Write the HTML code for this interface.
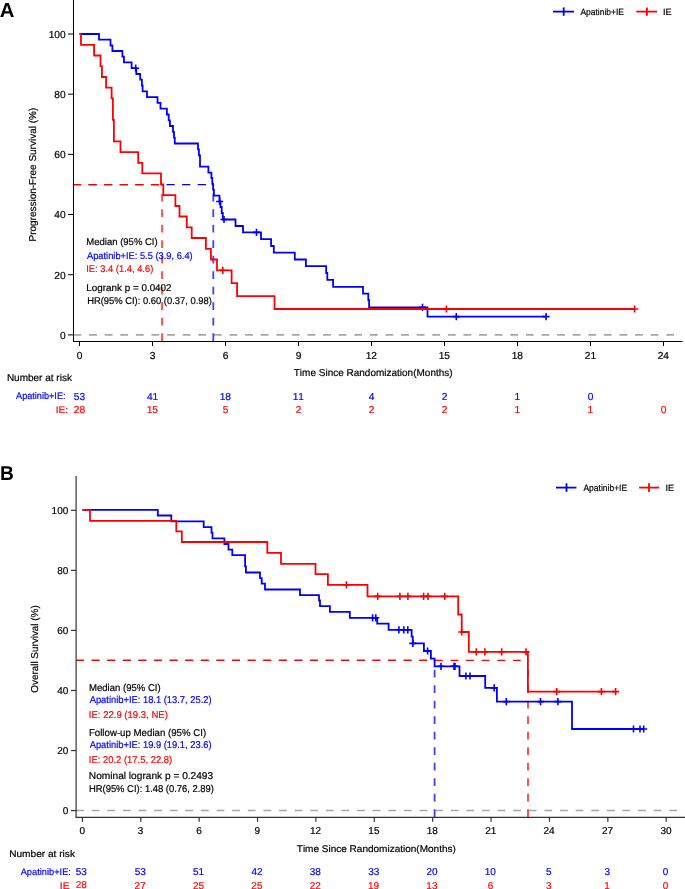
<!DOCTYPE html>
<html><head><meta charset="utf-8"><style>
html,body{margin:0;padding:0;background:#fff;overflow:hidden;}
svg{display:block;will-change:transform;}
text{font-family:"Liberation Sans", sans-serif;font-kerning:none;text-rendering:geometricPrecision;}
</style></head><body>
<svg width="685" height="889" viewBox="0 0 685 889">
<text x="-0.3" y="17.1" font-size="20.3" fill="#000000" textLength="14.64" lengthAdjust="spacingAndGlyphs" font-weight="bold">A</text>
<line x1="73.5" y1="334.9" x2="682" y2="334.9" stroke="#a6a6a6" stroke-width="1.6" stroke-dasharray="7.8 7.8"/>
<line x1="72.9" y1="184.6" x2="213.3" y2="184.6" stroke="#0000ff" stroke-width="1.3" stroke-dasharray="8.2 7.4"/>
<line x1="72.9" y1="184.6" x2="162.1" y2="184.6" stroke="#ff0000" stroke-width="1.3" stroke-dasharray="8.2 7.4"/>
<line x1="162.1" y1="341" x2="162.1" y2="184.0" stroke="#ff0000" stroke-width="2" stroke-dasharray="7.75 7.75" stroke-opacity="0.68"/>
<line x1="213.3" y1="341" x2="213.3" y2="184.0" stroke="#0000ff" stroke-width="1.8" stroke-dasharray="7.75 7.75" stroke-opacity="0.75"/>
<line x1="73.5" y1="0" x2="73.5" y2="342.0" stroke="#000000" stroke-width="1"/>
<line x1="73.0" y1="341.5" x2="682.5" y2="341.5" stroke="#000000" stroke-width="1"/>
<line x1="68" y1="334.9" x2="73.5" y2="334.9" stroke="#000000" stroke-width="1"/>
<text x="60.03" y="338.7" font-size="10.2" fill="#000000" stroke="#000000" stroke-width="0.2">0</text>
<line x1="68" y1="274.72" x2="73.5" y2="274.72" stroke="#000000" stroke-width="1"/>
<text x="54.35" y="278.52000000000004" font-size="10.2" fill="#000000" stroke="#000000" stroke-width="0.2">20</text>
<line x1="68" y1="214.54" x2="73.5" y2="214.54" stroke="#000000" stroke-width="1"/>
<text x="54.35" y="218.34" font-size="10.2" fill="#000000" stroke="#000000" stroke-width="0.2">40</text>
<line x1="68" y1="154.36" x2="73.5" y2="154.36" stroke="#000000" stroke-width="1"/>
<text x="54.35" y="158.16000000000003" font-size="10.2" fill="#000000" stroke="#000000" stroke-width="0.2">60</text>
<line x1="68" y1="94.18" x2="73.5" y2="94.18" stroke="#000000" stroke-width="1"/>
<text x="54.35" y="97.98" font-size="10.2" fill="#000000" stroke="#000000" stroke-width="0.2">80</text>
<line x1="68" y1="34.0" x2="73.5" y2="34.0" stroke="#000000" stroke-width="1"/>
<text x="48.68" y="37.8" font-size="10.2" fill="#000000" stroke="#000000" stroke-width="0.2">100</text>
<line x1="79.5" y1="341.5" x2="79.5" y2="346" stroke="#000000" stroke-width="1"/>
<text x="76.66" y="358.5" font-size="10.2" fill="#000000" stroke="#000000" stroke-width="0.2">0</text>
<line x1="152.5" y1="341.5" x2="152.5" y2="346" stroke="#000000" stroke-width="1"/>
<text x="149.69" y="358.5" font-size="10.2" fill="#000000" stroke="#000000" stroke-width="0.2">3</text>
<line x1="225.5" y1="341.5" x2="225.5" y2="346" stroke="#000000" stroke-width="1"/>
<text x="222.63" y="358.5" font-size="10.2" fill="#000000" stroke="#000000" stroke-width="0.2">6</text>
<line x1="298.5" y1="341.5" x2="298.5" y2="346" stroke="#000000" stroke-width="1"/>
<text x="295.67" y="358.5" font-size="10.2" fill="#000000" stroke="#000000" stroke-width="0.2">9</text>
<line x1="371.5" y1="341.5" x2="371.5" y2="346" stroke="#000000" stroke-width="1"/>
<text x="365.7" y="358.5" font-size="10.2" fill="#000000" stroke="#000000" stroke-width="0.2">12</text>
<line x1="444.5" y1="341.5" x2="444.5" y2="346" stroke="#000000" stroke-width="1"/>
<text x="438.65" y="358.5" font-size="10.2" fill="#000000" stroke="#000000" stroke-width="0.2">15</text>
<line x1="517.49" y1="341.5" x2="517.49" y2="346" stroke="#000000" stroke-width="1"/>
<text x="511.65" y="358.5" font-size="10.2" fill="#000000" stroke="#000000" stroke-width="0.2">18</text>
<line x1="590.49" y1="341.5" x2="590.49" y2="346" stroke="#000000" stroke-width="1"/>
<text x="584.81" y="358.5" font-size="10.2" fill="#000000" stroke="#000000" stroke-width="0.2">21</text>
<line x1="663.49" y1="341.5" x2="663.49" y2="346" stroke="#000000" stroke-width="1"/>
<text x="657.71" y="358.5" font-size="10.2" fill="#000000" stroke="#000000" stroke-width="0.2">24</text>
<text x="0" y="0" font-size="10" fill="#000000" stroke="#000000" stroke-width="0.2" textLength="133.74" lengthAdjust="spacingAndGlyphs" transform="translate(35.6,241.52) rotate(-90)">Progression-Free Survival (%)</text>
<text x="293.78" y="375.5" font-size="10" fill="#000000" stroke="#000000" stroke-width="0.2" textLength="158.84" lengthAdjust="spacingAndGlyphs">Time Since Randomization(Months)</text>
<line x1="553" y1="11.6" x2="574" y2="11.6" stroke="#0000ff" stroke-width="1.8"/>
<path d="M563.7 7.3999999999999995V15.8" stroke="#0000ff" stroke-width="1.8" fill="none"/>
<text x="580.38" y="15.0" font-size="9.0" fill="#000000" stroke="#000000" stroke-width="0.2" textLength="43.58" lengthAdjust="spacingAndGlyphs">Apatinib+IE</text>
<line x1="636.3" y1="11.6" x2="657" y2="11.6" stroke="#ff0000" stroke-width="1.8"/>
<path d="M646.9 7.3999999999999995V15.8" stroke="#ff0000" stroke-width="1.8" fill="none"/>
<text x="662.96" y="15.0" font-size="9.0" fill="#000000" stroke="#000000" stroke-width="0.2" textLength="8.64" lengthAdjust="spacingAndGlyphs">IE</text>
<text x="86.32" y="245.1" font-size="9.8" fill="#000000" stroke="#000000" stroke-width="0.2" textLength="71.37" lengthAdjust="spacingAndGlyphs">Median (95% CI)</text>
<text x="86.98" y="258.7" font-size="9.8" fill="#0000ff" stroke="#0000ff" stroke-width="0.2" textLength="105.69" lengthAdjust="spacingAndGlyphs">Apatinib+IE: 5.5 (3.9, 6.4)</text>
<text x="86.24" y="272.3" font-size="9.8" fill="#ff0000" stroke="#ff0000" stroke-width="0.2" textLength="67.04" lengthAdjust="spacingAndGlyphs">IE: 3.4 (1.4, 4.6)</text>
<text x="86.39" y="290.9" font-size="9.8" fill="#000000" stroke="#000000" stroke-width="0.2" textLength="85.2" lengthAdjust="spacingAndGlyphs">Logrank p = 0.0402</text>
<text x="87.13" y="304.0" font-size="9.8" fill="#000000" stroke="#000000" stroke-width="0.2" textLength="124.75" lengthAdjust="spacingAndGlyphs">HR(95% CI): 0.60 (0.37, 0.98)</text>
<path d="M79.5 34.0H99.0V39.7H110.5V45.5H112.4V51.0H122.4V56.7H123.9V62.4H131.6V68.2H136.3V74.0H140.2V79.7H141.9V85.5H142.6V91.3H147.0V97.1H157.5V102.8H160.5V108.6H166.9V114.5H168.7V120.3H169.9V126.0H173.0V131.9H174.0V137.7H174.8V143.5H198.0V149.4H198.9V155.3H200.0V166.7H208.4V172.6H211.4V178.0H212.3V183.8H213.1V189.6H213.9V195.6H219.5V201.5H220.5V207.0H221.7V213.0H222.8V219.5H235.5V226.0H243.0V232.4H261.0V239.2H271.1V246.0H273.8V252.7H294.8V259.5H305.9V266.2H326.2V273.0H327.3V279.9H333.1V286.8H363.0V293.7H368.3V300.2H369.1V307.3H427.5V316.6H546.1" fill="none" stroke="#0000ff" stroke-width="1.8" stroke-linejoin="miter" stroke-linecap="butt"/>
<path d="M135.7 64.60000000000001V71.8M132.2 68.2H139.2" stroke="#0000ff" stroke-width="1.6" fill="none"/>
<path d="M219.6 197.9V205.1M216.1 201.5H223.1" stroke="#0000ff" stroke-width="1.6" fill="none"/>
<path d="M224.0 215.9V223.1M220.5 219.5H227.5" stroke="#0000ff" stroke-width="1.6" fill="none"/>
<path d="M256.5 228.8V236.0M253.0 232.4H260.0" stroke="#0000ff" stroke-width="1.6" fill="none"/>
<path d="M422.5 303.7V310.90000000000003M419.0 307.3H426.0" stroke="#0000ff" stroke-width="1.6" fill="none"/>
<path d="M456.3 313.0V320.20000000000005M452.8 316.6H459.8" stroke="#0000ff" stroke-width="1.6" fill="none"/>
<path d="M546.1 313.0V320.20000000000005M542.6 316.6H549.6" stroke="#0000ff" stroke-width="1.6" fill="none"/>
<path d="M79.5 34.0H81.0V44.8H94.1V55.5H100.5V66.2H101.9V77.0H106.1V87.7H111.6V98.4H112.9V119.9H113.9V141.3H120.5V152.1H138.2V162.9H142.3V173.4H161.0V184.4H163.3V195.2H175.4V206.0H179.5V216.5H186.8V227.3H191.7V238.0H205.9V248.8H210.9V259.5H217.0V270.3H231.6V283.2H237.1V296.1H274.5V309.0H634.6" fill="none" stroke="#ff0000" stroke-width="1.8" stroke-linejoin="miter" stroke-linecap="butt"/>
<path d="M222.8 266.7V273.90000000000003M219.3 270.3H226.3" stroke="#ff0000" stroke-width="1.6" fill="none"/>
<path d="M446.4 305.4V312.6M442.9 309.0H449.9" stroke="#ff0000" stroke-width="1.6" fill="none"/>
<path d="M634.6 305.4V312.6M631.1 309.0H638.1" stroke="#ff0000" stroke-width="1.6" fill="none"/>
<text x="6.88" y="380.8" font-size="10" fill="#000000" stroke="#000000" stroke-width="0.2" textLength="65.01" lengthAdjust="spacingAndGlyphs">Number at risk</text>
<text x="16.08" y="399.3" font-size="9.6" fill="#0000ff" stroke="#0000ff" stroke-width="0.2" textLength="49.45" lengthAdjust="spacingAndGlyphs">Apatinib+IE:</text>
<text x="55.66" y="412.8" font-size="9.4" fill="#ff0000" stroke="#ff0000" stroke-width="0.2" textLength="12.47" lengthAdjust="spacingAndGlyphs">IE:</text>
<text x="73.85" y="399.8" font-size="10.2" fill="#0000ff" stroke="#0000ff" stroke-width="0.2">53</text>
<text x="146.96" y="399.8" font-size="10.2" fill="#0000ff" stroke="#0000ff" stroke-width="0.2">41</text>
<text x="219.66" y="399.8" font-size="10.2" fill="#0000ff" stroke="#0000ff" stroke-width="0.2">18</text>
<text x="292.69" y="399.8" font-size="10.2" fill="#0000ff" stroke="#0000ff" stroke-width="0.2">11</text>
<text x="368.7" y="399.8" font-size="10.2" fill="#0000ff" stroke="#0000ff" stroke-width="0.2">4</text>
<text x="441.66" y="399.8" font-size="10.2" fill="#0000ff" stroke="#0000ff" stroke-width="0.2">2</text>
<text x="514.51" y="399.8" font-size="10.2" fill="#0000ff" stroke="#0000ff" stroke-width="0.2">1</text>
<text x="587.65" y="399.8" font-size="10.2" fill="#0000ff" stroke="#0000ff" stroke-width="0.2">0</text>
<text x="73.79" y="413.0" font-size="10.2" fill="#ff0000" stroke="#ff0000" stroke-width="0.2">28</text>
<text x="146.65" y="413.0" font-size="10.2" fill="#ff0000" stroke="#ff0000" stroke-width="0.2">15</text>
<text x="222.67" y="413.0" font-size="10.2" fill="#ff0000" stroke="#ff0000" stroke-width="0.2">5</text>
<text x="295.66" y="413.0" font-size="10.2" fill="#ff0000" stroke="#ff0000" stroke-width="0.2">2</text>
<text x="368.66" y="413.0" font-size="10.2" fill="#ff0000" stroke="#ff0000" stroke-width="0.2">2</text>
<text x="441.66" y="413.0" font-size="10.2" fill="#ff0000" stroke="#ff0000" stroke-width="0.2">2</text>
<text x="514.51" y="413.0" font-size="10.2" fill="#ff0000" stroke="#ff0000" stroke-width="0.2">1</text>
<text x="587.51" y="413.0" font-size="10.2" fill="#ff0000" stroke="#ff0000" stroke-width="0.2">1</text>
<text x="660.65" y="413.0" font-size="10.2" fill="#ff0000" stroke="#ff0000" stroke-width="0.2">0</text>
<text x="0.02" y="479.7" font-size="20.0" fill="#000000" textLength="13.85" lengthAdjust="spacingAndGlyphs" font-weight="bold">B</text>
<line x1="76.1" y1="810.6" x2="685" y2="810.6" stroke="#a6a6a6" stroke-width="1.5" stroke-dasharray="7.8 7.81"/>
<line x1="76.1" y1="660.45" x2="434.6" y2="660.45" stroke="#0000ff" stroke-width="1.3" stroke-dasharray="7.8 7.8"/>
<line x1="76.1" y1="660.45" x2="527.9" y2="660.45" stroke="#ff0000" stroke-width="1.3" stroke-dasharray="7.8 7.8"/>
<line x1="434.6" y1="817" x2="434.6" y2="660.45" stroke="#0000ff" stroke-width="1.8" stroke-dasharray="7.75 7.75" stroke-opacity="0.75"/>
<line x1="528.0" y1="817" x2="528.0" y2="660.45" stroke="#ff0000" stroke-width="2" stroke-dasharray="7.75 7.75" stroke-opacity="0.68"/>
<line x1="76.1" y1="476" x2="76.1" y2="817.8" stroke="#333333" stroke-width="1.2"/>
<line x1="75.6" y1="817.3" x2="685" y2="817.3" stroke="#333333" stroke-width="1.2"/>
<line x1="71" y1="810.6" x2="76.1" y2="810.6" stroke="#333333" stroke-width="1.2"/>
<text x="62.73" y="814.1" font-size="10.0" fill="#000000" stroke="#000000" stroke-width="0.2">0</text>
<line x1="71" y1="750.54" x2="76.1" y2="750.54" stroke="#333333" stroke-width="1.2"/>
<text x="57.17" y="754.04" font-size="10.0" fill="#000000" stroke="#000000" stroke-width="0.2">20</text>
<line x1="71" y1="690.48" x2="76.1" y2="690.48" stroke="#333333" stroke-width="1.2"/>
<text x="57.17" y="693.98" font-size="10.0" fill="#000000" stroke="#000000" stroke-width="0.2">40</text>
<line x1="71" y1="630.42" x2="76.1" y2="630.42" stroke="#333333" stroke-width="1.2"/>
<text x="57.17" y="633.92" font-size="10.0" fill="#000000" stroke="#000000" stroke-width="0.2">60</text>
<line x1="71" y1="570.36" x2="76.1" y2="570.36" stroke="#333333" stroke-width="1.2"/>
<text x="57.17" y="573.86" font-size="10.0" fill="#000000" stroke="#000000" stroke-width="0.2">80</text>
<line x1="71" y1="510.3" x2="76.1" y2="510.3" stroke="#333333" stroke-width="1.2"/>
<text x="51.61" y="513.8" font-size="10.0" fill="#000000" stroke="#000000" stroke-width="0.2">100</text>
<line x1="82.4" y1="817.3" x2="82.4" y2="821.7" stroke="#333333" stroke-width="1.2"/>
<text x="79.42" y="834.2" font-size="10.0" fill="#000000" stroke="#000000" stroke-width="0.2">0</text>
<line x1="140.78" y1="817.3" x2="140.78" y2="821.7" stroke="#333333" stroke-width="1.2"/>
<text x="137.83" y="834.2" font-size="10.0" fill="#000000" stroke="#000000" stroke-width="0.2">3</text>
<line x1="199.16" y1="817.3" x2="199.16" y2="821.7" stroke="#333333" stroke-width="1.2"/>
<text x="196.15" y="834.2" font-size="10.0" fill="#000000" stroke="#000000" stroke-width="0.2">6</text>
<line x1="257.54" y1="817.3" x2="257.54" y2="821.7" stroke="#333333" stroke-width="1.2"/>
<text x="254.56" y="834.2" font-size="10.0" fill="#000000" stroke="#000000" stroke-width="0.2">9</text>
<line x1="315.92" y1="817.3" x2="315.92" y2="821.7" stroke="#333333" stroke-width="1.2"/>
<text x="310.03" y="834.2" font-size="10.0" fill="#000000" stroke="#000000" stroke-width="0.2">12</text>
<line x1="374.3" y1="817.3" x2="374.3" y2="821.7" stroke="#333333" stroke-width="1.2"/>
<text x="368.37" y="834.2" font-size="10.0" fill="#000000" stroke="#000000" stroke-width="0.2">15</text>
<line x1="432.68" y1="817.3" x2="432.68" y2="821.7" stroke="#333333" stroke-width="1.2"/>
<text x="426.75" y="834.2" font-size="10.0" fill="#000000" stroke="#000000" stroke-width="0.2">18</text>
<line x1="491.06" y1="817.3" x2="491.06" y2="821.7" stroke="#333333" stroke-width="1.2"/>
<text x="485.29" y="834.2" font-size="10.0" fill="#000000" stroke="#000000" stroke-width="0.2">21</text>
<line x1="549.44" y1="817.3" x2="549.44" y2="821.7" stroke="#333333" stroke-width="1.2"/>
<text x="543.57" y="834.2" font-size="10.0" fill="#000000" stroke="#000000" stroke-width="0.2">24</text>
<line x1="607.82" y1="817.3" x2="607.82" y2="821.7" stroke="#333333" stroke-width="1.2"/>
<text x="602.06" y="834.2" font-size="10.0" fill="#000000" stroke="#000000" stroke-width="0.2">27</text>
<line x1="666.2" y1="817.3" x2="666.2" y2="821.7" stroke="#333333" stroke-width="1.2"/>
<text x="660.44" y="834.2" font-size="10.0" fill="#000000" stroke="#000000" stroke-width="0.2">30</text>
<text x="0" y="0" font-size="10.0" fill="#000000" stroke="#000000" stroke-width="0.2" textLength="87.48" lengthAdjust="spacingAndGlyphs" transform="translate(37.9,692.77) rotate(-90)">Overall Survival (%)</text>
<text x="296.78" y="851.9" font-size="9.7" fill="#000000" stroke="#000000" stroke-width="0.2" textLength="159.05" lengthAdjust="spacingAndGlyphs">Time Since Randomization(Months)</text>
<line x1="556" y1="487.6" x2="576.4" y2="487.6" stroke="#0000ff" stroke-width="1.8"/>
<path d="M566.5 483.3V491.90000000000003" stroke="#0000ff" stroke-width="1.8" fill="none"/>
<text x="583.38" y="491.3" font-size="9.2" fill="#000000" stroke="#000000" stroke-width="0.2" textLength="43.78" lengthAdjust="spacingAndGlyphs">Apatinib+IE</text>
<line x1="639.1" y1="487.6" x2="659.2" y2="487.6" stroke="#ff0000" stroke-width="1.8"/>
<path d="M649 483.3V491.90000000000003" stroke="#ff0000" stroke-width="1.8" fill="none"/>
<text x="665.56" y="491.3" font-size="9.2" fill="#000000" stroke="#000000" stroke-width="0.2" textLength="8.64" lengthAdjust="spacingAndGlyphs">IE</text>
<text x="88.92" y="690.5" font-size="9.9" fill="#000000" stroke="#000000" stroke-width="0.2" textLength="71.78" lengthAdjust="spacingAndGlyphs">Median (95% CI)</text>
<text x="89.68" y="703.0" font-size="9.9" fill="#0000ff" stroke="#0000ff" stroke-width="0.2" textLength="121.9" lengthAdjust="spacingAndGlyphs">Apatinib+IE: 18.1 (13.7, 25.2)</text>
<text x="88.82" y="717.8" font-size="9.9" fill="#ff0000" stroke="#ff0000" stroke-width="0.2" textLength="79.07" lengthAdjust="spacingAndGlyphs">IE: 22.9 (19.3, NE)</text>
<text x="88.91" y="735.7" font-size="9.9" fill="#000000" stroke="#000000" stroke-width="0.2" textLength="117.29" lengthAdjust="spacingAndGlyphs">Follow-up Median (95% CI)</text>
<text x="89.68" y="748.2" font-size="9.9" fill="#0000ff" stroke="#0000ff" stroke-width="0.2" textLength="121.9" lengthAdjust="spacingAndGlyphs">Apatinib+IE: 19.9 (19.1, 23.6)</text>
<text x="88.83" y="762.7" font-size="9.9" fill="#ff0000" stroke="#ff0000" stroke-width="0.2" textLength="83.36" lengthAdjust="spacingAndGlyphs">IE: 20.2 (17.5, 22.8)</text>
<text x="88.87" y="779.3" font-size="9.9" fill="#000000" stroke="#000000" stroke-width="0.2" textLength="124.28" lengthAdjust="spacingAndGlyphs">Nominal logrank p = 0.2493</text>
<text x="88.93" y="792.2" font-size="9.9" fill="#000000" stroke="#000000" stroke-width="0.2" textLength="125.06" lengthAdjust="spacingAndGlyphs">HR(95% CI): 1.48 (0.76, 2.89)</text>
<path d="M82.4 509.9H157.8V515.5H171.3V521.3H203.7V527.1H211.5V532.7H212.5V538.3H224.4V544.0H228.5V549.6H232.3V555.1H245.1V566.4H245.9V572.5H260.0V578.1H261.7V583.7H265.0V589.5H300.0V595.1H319.0V600.5H320.0V606.2H329.9V611.9H349.8V617.8H377.2V623.6H388.6V629.8H411.6V636.6H412.8V643.4H423.9V651.0H430.9V658.6H434.6V666.3H459.5V676.0H485.2V687.9H496.9V701.6H572.0V729.0H643.7" fill="none" stroke="#0000ff" stroke-width="1.8" stroke-linejoin="miter" stroke-linecap="butt"/>
<path d="M372.6 614.1999999999999V621.4M369.1 617.8H376.1" stroke="#0000ff" stroke-width="1.6" fill="none"/>
<path d="M375.8 614.1999999999999V621.4M372.3 617.8H379.3" stroke="#0000ff" stroke-width="1.6" fill="none"/>
<path d="M398.9 626.1999999999999V633.4M395.4 629.8H402.4" stroke="#0000ff" stroke-width="1.6" fill="none"/>
<path d="M403.8 626.1999999999999V633.4M400.3 629.8H407.3" stroke="#0000ff" stroke-width="1.6" fill="none"/>
<path d="M407.8 626.1999999999999V633.4M404.3 629.8H411.3" stroke="#0000ff" stroke-width="1.6" fill="none"/>
<path d="M412.8 639.8V647.0M409.3 643.4H416.3" stroke="#0000ff" stroke-width="1.6" fill="none"/>
<path d="M427.6 647.4V654.6M424.1 651.0H431.1" stroke="#0000ff" stroke-width="1.6" fill="none"/>
<path d="M441.0 662.6999999999999V669.9M437.5 666.3H444.5" stroke="#0000ff" stroke-width="1.6" fill="none"/>
<path d="M454.0 662.6999999999999V669.9M450.5 666.3H457.5" stroke="#0000ff" stroke-width="1.6" fill="none"/>
<path d="M455.0 662.6999999999999V669.9M451.5 666.3H458.5" stroke="#0000ff" stroke-width="1.6" fill="none"/>
<path d="M465.9 672.4V679.6M462.4 676.0H469.4" stroke="#0000ff" stroke-width="1.6" fill="none"/>
<path d="M470.0 672.4V679.6M466.5 676.0H473.5" stroke="#0000ff" stroke-width="1.6" fill="none"/>
<path d="M494.2 684.3V691.5M490.7 687.9H497.7" stroke="#0000ff" stroke-width="1.6" fill="none"/>
<path d="M506.3 698.0V705.2M502.8 701.6H509.8" stroke="#0000ff" stroke-width="1.6" fill="none"/>
<path d="M540.5 698.0V705.2M537.0 701.6H544.0" stroke="#0000ff" stroke-width="1.6" fill="none"/>
<path d="M557.9 698.0V705.2M554.4 701.6H561.4" stroke="#0000ff" stroke-width="1.6" fill="none"/>
<path d="M633.5 725.4V732.6M630.0 729.0H637.0" stroke="#0000ff" stroke-width="1.6" fill="none"/>
<path d="M640.0 725.4V732.6M636.5 729.0H643.5" stroke="#0000ff" stroke-width="1.6" fill="none"/>
<path d="M643.7 725.4V732.6M640.2 729.0H647.2" stroke="#0000ff" stroke-width="1.6" fill="none"/>
<path d="M82.4 509.9H90.0V520.9H176.3V531.3H181.8V542.0H267.3V552.8H281.0V563.8H315.5V574.2H327.9V584.9H367.5V596.4H458.2V614.5H461.7V632.0H468.8V651.9H527.9V691.6H615.6" fill="none" stroke="#ff0000" stroke-width="1.8" stroke-linejoin="miter" stroke-linecap="butt"/>
<path d="M346.4 581.3V588.5M342.9 584.9H349.9" stroke="#ff0000" stroke-width="1.6" fill="none"/>
<path d="M377.7 592.8V600.0M374.2 596.4H381.2" stroke="#ff0000" stroke-width="1.6" fill="none"/>
<path d="M399.9 592.8V600.0M396.4 596.4H403.4" stroke="#ff0000" stroke-width="1.6" fill="none"/>
<path d="M407.9 592.8V600.0M404.4 596.4H411.4" stroke="#ff0000" stroke-width="1.6" fill="none"/>
<path d="M423.6 592.8V600.0M420.1 596.4H427.1" stroke="#ff0000" stroke-width="1.6" fill="none"/>
<path d="M428.0 592.8V600.0M424.5 596.4H431.5" stroke="#ff0000" stroke-width="1.6" fill="none"/>
<path d="M444.7 592.8V600.0M441.2 596.4H448.2" stroke="#ff0000" stroke-width="1.6" fill="none"/>
<path d="M461.7 628.4V635.6M458.2 632.0H465.2" stroke="#ff0000" stroke-width="1.6" fill="none"/>
<path d="M476.3 648.3V655.5M472.8 651.9H479.8" stroke="#ff0000" stroke-width="1.6" fill="none"/>
<path d="M484.9 648.3V655.5M481.4 651.9H488.4" stroke="#ff0000" stroke-width="1.6" fill="none"/>
<path d="M501.7 648.3V655.5M498.2 651.9H505.2" stroke="#ff0000" stroke-width="1.6" fill="none"/>
<path d="M526.0 648.3V655.5M522.5 651.9H529.5" stroke="#ff0000" stroke-width="1.6" fill="none"/>
<path d="M556.7 688.0V695.2M553.2 691.6H560.2" stroke="#ff0000" stroke-width="1.6" fill="none"/>
<path d="M601.4 688.0V695.2M597.9 691.6H604.9" stroke="#ff0000" stroke-width="1.6" fill="none"/>
<path d="M615.6 688.0V695.2M612.1 691.6H619.1" stroke="#ff0000" stroke-width="1.6" fill="none"/>
<text x="9.17" y="857.0" font-size="9.6" fill="#000000" stroke="#000000" stroke-width="0.2" textLength="65.82" lengthAdjust="spacingAndGlyphs">Number at risk</text>
<text x="20.68" y="875.0" font-size="9.4" fill="#0000ff" stroke="#0000ff" stroke-width="0.2" textLength="50.26" lengthAdjust="spacingAndGlyphs">Apatinib+IE:</text>
<text x="59.84" y="889.0" font-size="9.4" fill="#ff0000" stroke="#ff0000" stroke-width="0.2" textLength="9.8" lengthAdjust="spacingAndGlyphs">IE</text>
<text x="75.76" y="875.2" font-size="10.0" fill="#0000ff" stroke="#0000ff" stroke-width="0.2">53</text>
<text x="134.64" y="875.2" font-size="10.0" fill="#0000ff" stroke="#0000ff" stroke-width="0.2">53</text>
<text x="193.04" y="875.2" font-size="10.0" fill="#0000ff" stroke="#0000ff" stroke-width="0.2">51</text>
<text x="251.52" y="875.2" font-size="10.0" fill="#0000ff" stroke="#0000ff" stroke-width="0.2">42</text>
<text x="309.79" y="875.2" font-size="10.0" fill="#0000ff" stroke="#0000ff" stroke-width="0.2">38</text>
<text x="368.17" y="875.2" font-size="10.0" fill="#0000ff" stroke="#0000ff" stroke-width="0.2">33</text>
<text x="426.46" y="875.2" font-size="10.0" fill="#0000ff" stroke="#0000ff" stroke-width="0.2">20</text>
<text x="484.71" y="875.2" font-size="10.0" fill="#0000ff" stroke="#0000ff" stroke-width="0.2">10</text>
<text x="546.07" y="875.2" font-size="10.0" fill="#0000ff" stroke="#0000ff" stroke-width="0.2">5</text>
<text x="604.47" y="875.2" font-size="10.0" fill="#0000ff" stroke="#0000ff" stroke-width="0.2">3</text>
<text x="662.82" y="875.2" font-size="10.0" fill="#0000ff" stroke="#0000ff" stroke-width="0.2">0</text>
<text x="75.7" y="887.7" font-size="10.0" fill="#ff0000" stroke="#ff0000" stroke-width="0.2">28</text>
<text x="134.62" y="889.0" font-size="10.0" fill="#ff0000" stroke="#ff0000" stroke-width="0.2">27</text>
<text x="192.96" y="889.0" font-size="10.0" fill="#ff0000" stroke="#ff0000" stroke-width="0.2">25</text>
<text x="251.34" y="889.0" font-size="10.0" fill="#ff0000" stroke="#ff0000" stroke-width="0.2">25</text>
<text x="309.76" y="889.0" font-size="10.0" fill="#ff0000" stroke="#ff0000" stroke-width="0.2">22</text>
<text x="367.99" y="889.0" font-size="10.0" fill="#ff0000" stroke="#ff0000" stroke-width="0.2">19</text>
<text x="426.36" y="889.0" font-size="10.0" fill="#ff0000" stroke="#ff0000" stroke-width="0.2">13</text>
<text x="487.65" y="889.0" font-size="10.0" fill="#ff0000" stroke="#ff0000" stroke-width="0.2">6</text>
<text x="546.09" y="889.0" font-size="10.0" fill="#ff0000" stroke="#ff0000" stroke-width="0.2">3</text>
<text x="604.3" y="889.0" font-size="10.0" fill="#ff0000" stroke="#ff0000" stroke-width="0.2">1</text>
<text x="662.82" y="889.0" font-size="10.0" fill="#ff0000" stroke="#ff0000" stroke-width="0.2">0</text>
</svg>
</body></html>
